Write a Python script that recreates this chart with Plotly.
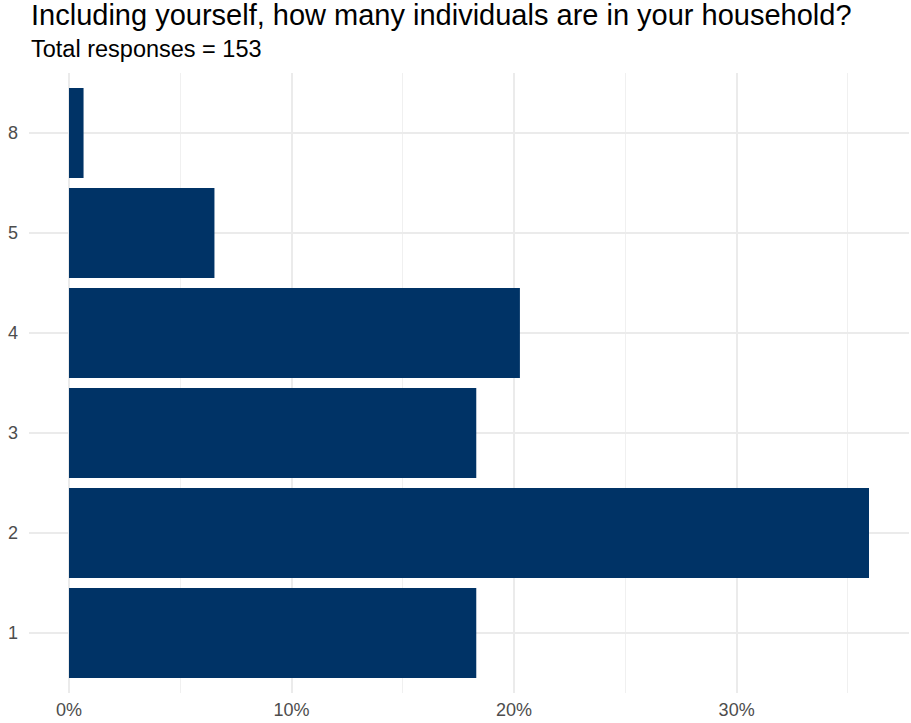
import plotly.graph_objects as go

categories = ["1", "2", "3", "4", "5", "8"]
counts = [28, 55, 28, 31, 10, 1]
total = sum(counts)
percents = [c / total * 100 for c in counts]
tick_vals = [0, 10, 20, 30]
tick_text = ["0%", "10%", "20%", "30%"]

title_text = "Including yourself, how many individuals are in your household?"
subtitle_text = f"Total responses = {total}"

W, H = 911, 723
L, R, T, B = 29, 2, 73, 30
ph = H - T - B

def ypaper(px):
    return 1 + (T - px) / ph

fig = go.Figure(go.Bar(
    y=categories, x=percents, orientation="h",
    marker=dict(color="#003366", line=dict(width=0)),
    width=0.9,
))

mx = max(percents)
fig.update_layout(
    width=W, height=H,
    margin=dict(l=L, r=R, t=T, b=B, autoexpand=False),
    paper_bgcolor="white", plot_bgcolor="white",
    font=dict(family="Liberation Sans, Arial, sans-serif"),
    showlegend=False,
    xaxis=dict(
        range=[-0.05 * mx, 1.05 * mx],
        tickvals=tick_vals, ticktext=tick_text,
        showgrid=True, gridcolor="#ebebeb", gridwidth=1.6,
        zeroline=False, showline=False, ticks="",
        tickfont=dict(size=18, color="#4d4d4d"),
        ticklabelstandoff=4,
        automargin=False,
        minor=dict(dtick=5, tick0=0, showgrid=True, gridcolor="#f0f0f0", gridwidth=1.2),
    ),
    yaxis=dict(
        type="category", categoryorder="array", categoryarray=categories,
        range=[-0.6, len(categories) - 0.4],
        showgrid=True, gridcolor="#ebebeb", gridwidth=1.6,
        zeroline=False, showline=False, ticks="",
        tickfont=dict(size=18, color="#4d4d4d"),
        ticklabelstandoff=10,
        automargin=False,
    ),
    annotations=[
        dict(text=title_text, xref="paper", yref="paper", x=0, y=ypaper(15),
             xanchor="left", yanchor="middle", showarrow=False,
             font=dict(size=29, color="black")),
        dict(text=subtitle_text, xref="paper", yref="paper", x=0, y=ypaper(49),
             xanchor="left", yanchor="middle", showarrow=False,
             font=dict(size=23.5, color="black")),
    ],
)

fig.write_html(
    "out.html",
    config={"displayModeBar": False},
    post_script="document.body.style.margin='0';document.body.style.overflow='hidden';",
)
